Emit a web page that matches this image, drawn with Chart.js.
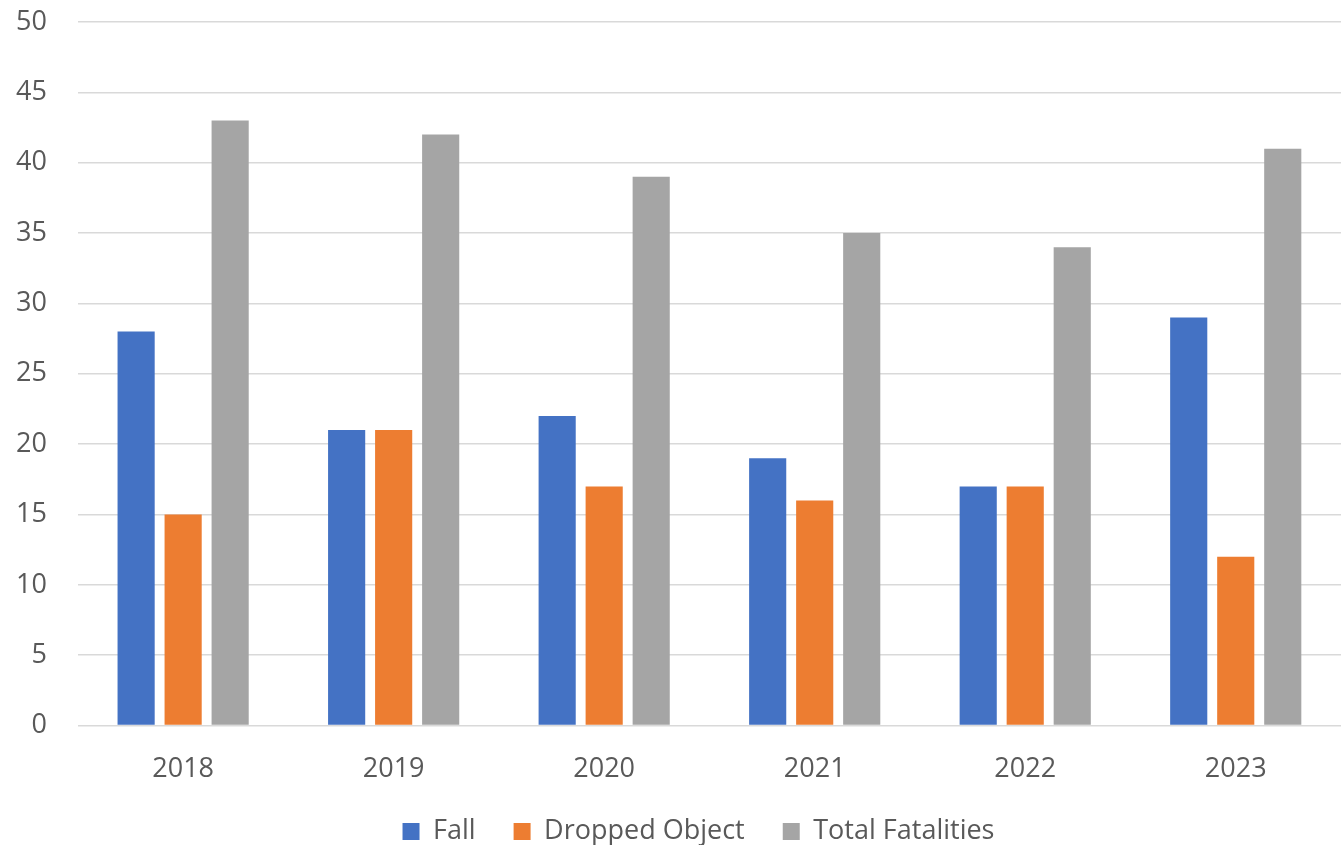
<!DOCTYPE html>
<html>
<head>
<meta charset="utf-8">
<script src="https://cdn.jsdelivr.net/npm/chart.js@4/dist/chart.umd.min.js"></script>
<style>
  html,body{margin:0;padding:0;background:#fff;}
  #wrap{width:1341px;height:845px;position:relative;}
</style>
</head>
<body>
<div id="wrap"><canvas id="chart"></canvas></div>
<script>
// ----- Data -----
const YEARS = ['2018','2019','2020','2021','2022','2023'];
const FALL = [28,21,22,19,17,29];
const DROPPED = [15,21,17,16,17,12];
const TOTAL = [43,42,39,35,34,41];

const FONT = '"Open Sans", "Liberation Sans", sans-serif';
const TEXT_COLOR = '#595959';

// legend keeps wide item spacing but sits closer to the axis labels
const LEGEND_TRIM = 36, LEGEND_LIFT = 26, LEGEND_SHIFT = 20;
const tightLegend = {
  id:'tightLegend',
  beforeInit(chart){
    const lg = chart.legend;
    if(!lg) return;
    const fit = lg.fit;
    lg.fit = function(){ fit.call(this); this.height -= LEGEND_TRIM; };
  },
  afterLayout(chart){
    const lg = chart.legend;
    if(!lg) return;
    lg.top -= LEGEND_LIFT;
    lg.left += LEGEND_SHIFT; lg.right += LEGEND_SHIFT;
  }
};

const ctx = document.getElementById('chart').getContext('2d');
new Chart(ctx,{
  type:'bar',
  data:{
    labels:YEARS,
    datasets:[
      {label:'Fall', data:FALL, backgroundColor:'#4472c4'},
      {label:'Dropped Object', data:DROPPED, backgroundColor:'#ed7d31'},
      {label:'Total Fatalities', data:TOTAL, backgroundColor:'#a5a5a5'}
    ]
  },
  plugins:[tightLegend],
  options:{
    responsive:true,
    maintainAspectRatio:false,
    animation:false,
    categoryPercentage:0.67,
    barPercentage:0.79,
    layout:{padding:{top:22,right:0,left:16,bottom:0}},
    plugins:{
      tooltip:{enabled:false},
      legend:{
        position:'bottom',
        labels:{color:TEXT_COLOR, font:{family:FONT,size:27}, boxWidth:17, boxHeight:17, padding:38}
      }
    },
    scales:{
      x:{
        grid:{display:false},
        border:{display:false},
        ticks:{color:TEXT_COLOR, font:{family:FONT,size:27}, padding:20}
      },
      y:{
        min:0, max:50,
        ticks:{stepSize:5, color:TEXT_COLOR, font:{family:FONT,size:27}, padding:0},
        grid:{color:'#d9d9d9', lineWidth:1.5, drawTicks:true, tickLength:31, tickColor:'rgba(0,0,0,0)'},
        border:{display:false}
      }
    }
  }
});
</script>
</body>
</html>
